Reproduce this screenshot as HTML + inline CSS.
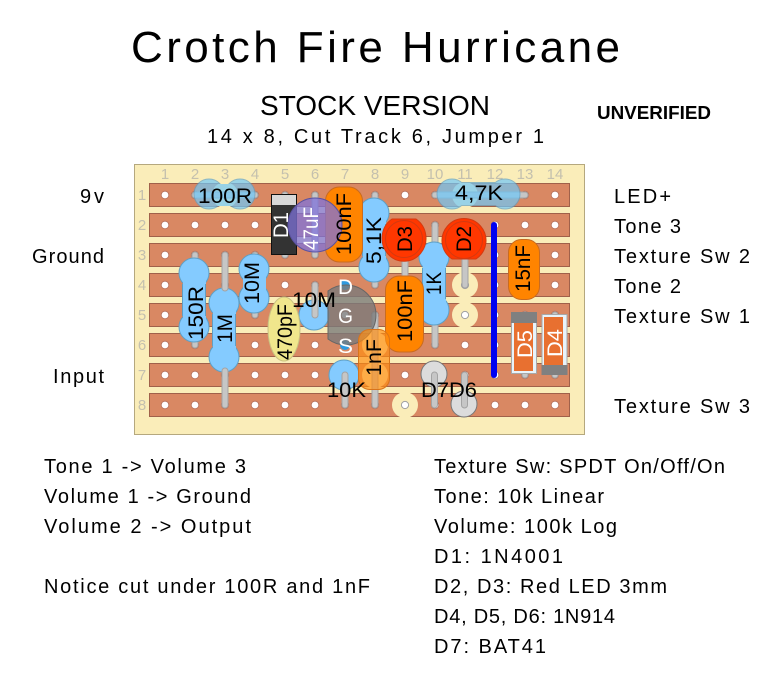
<!DOCTYPE html>
<html><head><meta charset="utf-8"><style>html,body{margin:0;padding:0;background:#fff}svg{display:block}text{font-family:"Liberation Sans","DejaVu Sans",sans-serif;fill:#000}.l{font-size:20px}.n{font-size:15px;fill:#c4c0ae}.r{font-size:21px}.w{fill:#fff}</style></head><body>
<svg width="776" height="673" viewBox="0 0 776 673" xmlns="http://www.w3.org/2000/svg">
<defs><pattern id="h" x="150" y="180" width="30" height="30" patternUnits="userSpaceOnUse"><circle cx="15" cy="15" r="4.2" fill="#b5705a"/><circle cx="15" cy="15" r="3.4" fill="#fff"/></pattern></defs>
<text x="131" y="62" font-size="44" textLength="489">Crotch Fire Hurricane</text>
<text x="260" y="115" font-size="28" textLength="230" lengthAdjust="spacingAndGlyphs">STOCK VERSION</text>
<text x="207" y="143" font-size="20" textLength="337">14 x 8, Cut Track 6, Jumper 1</text>
<text x="597" y="119" font-size="18" font-weight="bold" textLength="114" lengthAdjust="spacingAndGlyphs">UNVERIFIED</text>
<g class="l">
<text class="l" x="80" y="203" textLength="24">9v</text>
<text class="l" x="32" y="263" textLength="72">Ground</text>
<text class="l" x="53" y="383" textLength="51">Input</text>
<text class="l" x="614" y="203" textLength="57">LED+</text>
<text class="l" x="614" y="233" textLength="67">Tone 3</text>
<text class="l" x="614" y="263" textLength="136">Texture Sw 2</text>
<text class="l" x="614" y="293" textLength="67">Tone 2</text>
<text class="l" x="614" y="323" textLength="136">Texture Sw 1</text>
<text class="l" x="614" y="413" textLength="136">Texture Sw 3</text>
<text class="l" x="44" y="473" textLength="202">Tone 1 -&gt; Volume 3</text>
<text class="l" x="44" y="503" textLength="207">Volume 1 -&gt; Ground</text>
<text class="l" x="44" y="533" textLength="207">Volume 2 -&gt; Output</text>
<text class="l" x="44" y="593" textLength="326">Notice cut under 100R and 1nF</text>
<text class="l" x="434" y="473" textLength="291">Texture Sw: SPDT On/Off/On</text>
<text class="l" x="434" y="503" textLength="170">Tone: 10k Linear</text>
<text class="l" x="434" y="533" textLength="183">Volume: 100k Log</text>
<text class="l" x="434" y="563" textLength="129">D1: 1N4001</text>
<text class="l" x="434" y="593" textLength="233">D2, D3: Red LED 3mm</text>
<text class="l" x="434" y="623" textLength="181">D4, D5, D6: 1N914</text>
<text class="l" x="434" y="653" textLength="112">D7: BAT41</text>
</g>
<rect x="134.5" y="164.5" width="450" height="270" fill="#faedb9" stroke="#b5a87e"/>
<g class="n" text-anchor="middle">
<text class="n" x="165" y="179">1</text><text class="n" x="195" y="179">2</text><text class="n" x="225" y="179">3</text><text class="n" x="255" y="179">4</text><text class="n" x="285" y="179">5</text><text class="n" x="315" y="179">6</text><text class="n" x="345" y="179">7</text><text class="n" x="375" y="179">8</text><text class="n" x="405" y="179">9</text><text class="n" x="435" y="179">10</text><text class="n" x="465" y="179">11</text><text class="n" x="495" y="179">12</text><text class="n" x="525" y="179">13</text><text class="n" x="555" y="179">14</text>
<text class="n" x="142" y="200">1</text><text class="n" x="142" y="230">2</text><text class="n" x="142" y="260">3</text><text class="n" x="142" y="290">4</text><text class="n" x="142" y="320">5</text><text class="n" x="142" y="350">6</text><text class="n" x="142" y="380">7</text><text class="n" x="142" y="410">8</text>
</g>
<g fill="#d98863" stroke="#a0614a">
<rect x="149.5" y="183.5" width="420" height="23"/><rect x="149.5" y="213.5" width="420" height="23"/><rect x="149.5" y="243.5" width="420" height="23"/><rect x="149.5" y="273.5" width="420" height="23"/><rect x="149.5" y="303.5" width="420" height="23"/><rect x="149.5" y="333.5" width="420" height="23"/><rect x="149.5" y="363.5" width="420" height="23"/><rect x="149.5" y="393.5" width="420" height="23"/>
</g>
<rect x="150" y="180" width="420" height="240" fill="url(#h)"/>
<g fill="#faedb9">
<circle cx="225" cy="195" r="13"/><circle cx="465" cy="195" r="13"/><circle cx="465" cy="285" r="13"/><circle cx="465" cy="315" r="13"/><circle cx="405" cy="405" r="13"/><circle cx="375" cy="345" r="13"/><circle cx="375" cy="375" r="13"/>
</g>
<g fill="#fff" stroke="#a0a0a0"><circle cx="465" cy="285" r="3.6"/><circle cx="465" cy="315" r="3.6"/><circle cx="405" cy="405" r="3.6"/></g>
<!-- leads behind bodies -->
<g stroke="#a3a3a3" stroke-width="7" stroke-linecap="round" fill="none">
<path d="M195 195H255M435 195H525M285 195V255M315 195V255M375 195V285M405 225V285M435 225V345M465 225V285M195 255V345M255 255V315M375 315V405M525 315V375M555 315V375"/>
</g>
<g stroke="#c6c6c6" stroke-width="5" stroke-linecap="round" fill="none">
<path d="M195 195H255M435 195H525M285 195V255M315 195V255M375 195V285M405 225V285M435 225V345M465 225V285M195 255V345M255 255V315M375 315V405M525 315V375M555 315V375"/>
</g>
<!-- blue resistors -->
<g fill="#84cbff" stroke="#5f9fc4">
<circle cx="194" cy="273" r="15"/><circle cx="194" cy="327" r="15"/>
<circle cx="254" cy="269" r="15"/><circle cx="254" cy="298" r="15"/>
<circle cx="374" cy="213" r="15"/><circle cx="374" cy="267" r="15"/>
<circle cx="434" cy="257" r="15"/><circle cx="434" cy="310" r="15"/>
<circle cx="224" cy="303" r="15"/><circle cx="224" cy="357" r="15"/>
<circle cx="314" cy="315" r="15"/><circle cx="344" cy="375" r="15"/>
</g>
<g fill="#84cbff">
<rect x="183" y="273" width="23" height="54"/><rect x="243" y="269" width="23" height="29"/><rect x="363" y="213" width="23" height="54"/><rect x="423" y="257" width="23" height="53"/><rect x="213" y="303" width="23" height="54"/>
</g>
<g stroke="#5f9fc4" fill="none"><path d="M182.500 284V316M205.500 284V316M362.500 224V256M385.500 224V256M422.500 268V299M445.500 268V299M212.500 314V346M235.500 314V346"/></g>
<!-- leads over bodies -->
<g stroke="#a3a3a3" stroke-width="7" stroke-linecap="round" fill="none"><path d="M225 371V405M225 255V288M315 285V315M345 375V405"/></g>
<g stroke="#c6c6c6" stroke-width="5" stroke-linecap="round" fill="none"><path d="M225 371V405M225 255V288M315 285V315M345 375V405"/></g>
<!-- translucent resistors -->
<g opacity=".7">
<circle cx="209" cy="194" r="15" fill="#6fc8f9" stroke="#5f9fc4"/><circle cx="240" cy="194" r="15" fill="#6fc8f9" stroke="#5f9fc4"/><rect x="209" y="184" width="31" height="22" fill="#6fc8f9"/>
<circle cx="452" cy="194" r="15" fill="#6fc8f9" stroke="#5f9fc4"/><circle cx="505" cy="194" r="15" fill="#6fc8f9" stroke="#5f9fc4"/><rect x="452" y="183" width="53" height="22" fill="#6fc8f9"/>
<path d="M462 182.500H495M462 205.500H495" stroke="#5f9fc4" fill="none"/>
</g>
<!-- D1 -->
<rect x="271.500" y="194.500" width="25" height="60" fill="#333" stroke="#111"/>
<rect x="272" y="195" width="24" height="10" fill="#d8d8d8"/>
<ellipse cx="284" cy="329" rx="16" ry="32" fill="#f0e68c" stroke="#c9c182"/>
<rect x="325.500" y="187" width="37" height="75" rx="14" fill="#ff8400" stroke="#c96b20"/>
<circle cx="315" cy="225" r="27" fill="#7f73d9" fill-opacity=".75" stroke="#5a52a0"/>
<rect x="385.500" y="276" width="38" height="76" rx="14" fill="#ff8400" stroke="#c96b20"/>
<rect x="508.500" y="239.500" width="31" height="60" rx="13" fill="#ff8400" stroke="#c96b20"/>
<!-- LEDs -->
<path d="M392 219H416A22 23 0 1 1 392 219Z" fill="#ff3700" stroke="#d33a10"/>
<circle cx="404" cy="239" r="18.500" fill="none" stroke="#d33a10"/>
<path d="M452 259H476A22 22 0 1 0 452 259Z" fill="#ff3700" stroke="#d33a10"/>
<circle cx="464" cy="240" r="18.500" fill="none" stroke="#d33a10"/>
<!-- D5 D4 -->
<rect x="511.500" y="312.500" width="25" height="61" fill="#e8f3fa" stroke="#a8a8a8"/>
<rect x="514" y="323" width="19" height="48" fill="#e87030"/><rect x="511" y="312" width="26" height="11" fill="#808080"/>
<rect x="542" y="314.500" width="25" height="60" fill="#e8f3fa" stroke="#a8a8a8"/>
<rect x="544" y="317" width="19" height="48" fill="#e87030"/><rect x="541.500" y="365" width="26" height="10" fill="#808080"/>
<line x1="494" y1="225" x2="494" y2="375" stroke="#0000f0" stroke-width="6" stroke-linecap="round"/>
<g fill="#dcdcdc" stroke="#777"><circle cx="434" cy="374" r="13"/><circle cx="464" cy="404" r="13"/></g>
<g stroke="#a3a3a3" stroke-width="7" stroke-linecap="round" fill="none"><path d="M434.500 375V405M464.500 375V405"/></g>
<g stroke="#c6c6c6" stroke-width="5" stroke-linecap="round" fill="none"><path d="M434.500 375V405M464.500 375V405"/></g>
<!-- transistor -->
<circle cx="345" cy="285" r="5" fill="#2f9ae0"/><circle cx="345" cy="345" r="5" fill="#2f9ae0"/>
<path d="M328 291A30 30 0 1 1 328 339Z" fill="#7b7b7b" fill-opacity=".8" stroke="#666"/>
<rect x="358.500" y="329.500" width="31" height="60" rx="11" fill="#ff8d12" fill-opacity=".68" stroke="#d9741a"/>
<!-- labels -->
<text class="r" x="198" y="203" textLength="54" lengthAdjust="spacingAndGlyphs">100R</text>
<text class="r" x="455" y="200" textLength="48" lengthAdjust="spacingAndGlyphs">4,7K</text>
<text class="r" x="292" y="307" textLength="44" lengthAdjust="spacingAndGlyphs">10M</text>
<text class="r" x="327" y="397" textLength="39" lengthAdjust="spacingAndGlyphs">10K</text>
<text class="r" x="421" y="397" textLength="56" lengthAdjust="spacingAndGlyphs">D7D6</text>
<text class="r w" x="338" y="294" textLength="15" lengthAdjust="spacingAndGlyphs">D</text>
<text class="r w" x="338" y="323" textLength="15" lengthAdjust="spacingAndGlyphs">G</text>
<text class="r w" x="338" y="353" textLength="15" lengthAdjust="spacingAndGlyphs">S</text>
<text class="r" transform="translate(351,255) rotate(-90)" textLength="62" lengthAdjust="spacingAndGlyphs">100nF</text>
<text class="r w" transform="translate(318,250) rotate(-90)" textLength="43" lengthAdjust="spacingAndGlyphs">47uF</text>
<text class="r w" transform="translate(288,238) rotate(-90)" textLength="26" lengthAdjust="spacingAndGlyphs">D1</text>
<text class="r" transform="translate(381,264) rotate(-90)" textLength="47" lengthAdjust="spacingAndGlyphs">5,1K</text>
<text class="r" transform="translate(412,252) rotate(-90)" textLength="26" lengthAdjust="spacingAndGlyphs">D3</text>
<text class="r" transform="translate(471,252) rotate(-90)" textLength="26" lengthAdjust="spacingAndGlyphs">D2</text>
<text class="r" transform="translate(530,292) rotate(-90)" textLength="47" lengthAdjust="spacingAndGlyphs">15nF</text>
<text class="r" transform="translate(441,295) rotate(-90)" textLength="23" lengthAdjust="spacingAndGlyphs">1K</text>
<text class="r" transform="translate(203,340) rotate(-90)" textLength="54" lengthAdjust="spacingAndGlyphs">150R</text>
<text class="r" transform="translate(232,343) rotate(-90)" textLength="29" lengthAdjust="spacingAndGlyphs">1M</text>
<text class="r" transform="translate(259,304) rotate(-90)" textLength="42" lengthAdjust="spacingAndGlyphs">10M</text>
<text class="r" transform="translate(292,360) rotate(-90)" textLength="56" lengthAdjust="spacingAndGlyphs">470pF</text>
<text class="r" transform="translate(412,342) rotate(-90)" textLength="62" lengthAdjust="spacingAndGlyphs">100nF</text>
<text class="r" transform="translate(381,376) rotate(-90)" textLength="37" lengthAdjust="spacingAndGlyphs">1nF</text>
<text class="r w" transform="translate(532,358) rotate(-90)" textLength="28" lengthAdjust="spacingAndGlyphs">D5</text>
<text class="r w" transform="translate(562,357) rotate(-90)" textLength="28" lengthAdjust="spacingAndGlyphs">D4</text>
</svg>
</body></html>
